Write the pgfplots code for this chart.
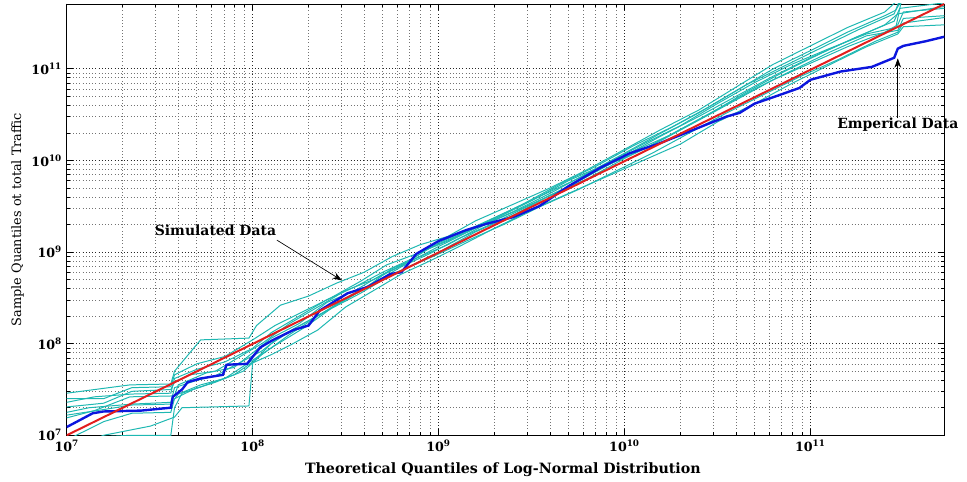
\documentclass[border=0pt]{standalone}
\usepackage{fontspec}
\setmainfont{DejaVu Serif}
\usepackage{pgfplots}
\pgfplotsset{compat=1.18}
\usetikzlibrary{arrows.meta}

\definecolor{simcyan}{RGB}{30,184,178}
\definecolor{empblue}{RGB}{12,22,222}
\definecolor{fitred}{RGB}{226,30,30}
\newcommand{\tl}[1]{\textbf{10}\textsuperscript{\textbf{#1}}}

\begin{document}
\begin{tikzpicture}
\begin{loglogaxis}[
  scale only axis,
  width=657.75bp, height=323.25bp,
  xmin=1e7, xmax=5.25e11, ymin=1e7, ymax=5.1e11,
  xtick={1e7,1e8,1e9,1e10,1e11},
  ytick={1e7,1e8,1e9,1e10,1e11},
  xticklabels={\tl{7},\tl{8},\tl{9},\tl{10},\tl{11}},
  yticklabels={\tl{7},\tl{8},\tl{9},\tl{10},\tl{11}},
  tick label style={font=\fontsize{9.5}{11}\selectfont},
  grid=both,
  major grid style={black!85, dotted, line width=0.6pt},
  minor grid style={black!55, dotted, line width=0.5pt},
  tick align=inside,
  major tick length=4.5bp, minor tick length=2.5bp,
  every tick/.style={black, line width=0.5pt},
  axis line style={black, line width=0.7pt},
  xlabel={Theoretical Quantiles of Log-Normal Distribution},
  ylabel={Sample Quantiles ot total Traffic},
  xlabel style={font=\fontsize{10.7}{12}\selectfont\bfseries,
                at={(axis description cs:0.497,-0.0795)}, anchor=center},
  ylabel style={font=\fontsize{9.7}{11}\selectfont,
                at={(axis description cs:-0.0559,0.5)}, anchor=center},
  clip mode=individual,
]

% simulated data (cyan)
\addplot[simcyan, line width=0.75pt] coordinates {
 (1e7,2.88e7) (2.19e7,3.55e7) (3.63e7,3.63e7) (3.80e7,5.01e7) (5.25e7,1.10e8)
 (9.55e7,1.15e8) (1.05e8,1.58e8) (1.41e8,2.63e8) (2.00e8,3.31e8) (2.82e8,4.57e8)
 (3.98e8,6.03e8) (5.62e8,8.91e8) (7.94e8,1.20e9) (1.12e9,1.48e9) (1.58e9,2.19e9)
 (2.51e9,3.31e9) (3.98e9,5.01e9) (6.31e9,7.94e9) (1e10,1.32e10) (1.58e10,2.19e10)
 (2.51e10,3.55e10) (3.98e10,6.31e10) (6.31e10,1.12e11) (1e11,1.78e11)
 (1.58e11,2.82e11) (2.51e11,4.17e11) (2.95e11,5.62e11)};
\addplot[simcyan, line width=0.75pt] coordinates {
 (1e7,2.29e7) (1.41e7,2.63e7) (2.24e7,2.82e7) (3.63e7,2.88e7) (3.80e7,4.17e7)
 (5.01e7,5.25e7) (7.08e7,6.31e7) (1e8,8.91e7) (1.26e8,1.32e8) (1.78e8,2.00e8)
 (2.51e8,3.02e8) (3.55e8,4.17e8) (5.01e8,6.03e8) (7.08e8,8.32e8) (1e9,1.26e9)
 (1.58e9,1.91e9) (2.51e9,2.95e9) (3.98e9,4.57e9) (6.31e9,7.08e9) (1e10,1.12e10)
 (1.58e10,1.86e10) (2.51e10,3.02e10) (3.98e10,5.01e10) (6.31e10,8.32e10)
 (1e11,1.32e11) (1.58e11,2.00e11) (2.51e11,3.02e11) (2.95e11,3.98e11) (5.25e11,4.79e11)};
\addplot[simcyan, line width=0.75pt] coordinates {
 (1e7,2.04e7) (1.58e7,2.24e7) (2.24e7,3.02e7) (3.63e7,3.16e7) (3.80e7,3.80e7)
 (4.57e7,4.57e7) (6.31e7,5.01e7) (8.91e7,7.59e7) (1.12e8,1e8) (1.58e8,1.66e8)
 (2.24e8,2.51e8) (3.16e8,3.80e8) (4.47e8,5.01e8) (6.31e8,7.08e8) (8.91e8,1.10e9)
 (1.26e9,1.51e9) (2.00e9,2.29e9) (3.16e9,3.63e9) (5.01e9,6.03e9) (7.94e9,9.12e9)
 (1.26e10,1.51e10) (2.00e10,2.40e10) (3.16e10,4.17e10) (5.01e10,7.08e10)
 (7.94e10,1.12e11) (1.26e11,1.66e11) (2.00e11,2.40e11) (2.88e11,2.82e11) (3.09e11,5.62e11)};
\addplot[simcyan, line width=0.75pt] coordinates {
 (1e7,1.78e7) (1.32e7,2.00e7) (2.24e7,2.19e7) (3.63e7,2.29e7) (3.80e7,3.31e7)
 (5.01e7,3.98e7) (6.31e7,4.47e7) (7.94e7,5.75e7) (1.12e8,8.32e7) (1.41e8,1.20e8)
 (2.00e8,1.78e8) (2.82e8,2.63e8) (3.98e8,3.98e8) (5.62e8,6.61e8) (7.94e8,8.91e8)
 (1.12e9,1.20e9) (1.78e9,2.00e9) (2.82e9,3.02e9) (4.47e9,4.57e9) (7.08e9,7.59e9)
 (1.12e10,1.26e10) (1.78e10,1.91e10) (2.82e10,3.16e10) (4.47e10,5.50e10)
 (7.08e10,9.12e10) (1.12e11,1.45e11) (1.78e11,2.24e11) (2.82e11,3.31e11)
 (3.02e11,4.57e11) (5.25e11,5.25e11)};
\addplot[simcyan, line width=0.75pt] coordinates {
 (1e7,1.66e7) (1.58e7,1.91e7) (2.24e7,2.14e7) (3.63e7,2.19e7) (3.98e7,2.82e7)
 (5.25e7,3.55e7) (7.08e7,4.17e7) (1e8,6.61e7) (1.32e8,9.55e7) (1.91e8,1.51e8)
 (2.63e8,2.40e8) (3.80e8,3.55e8) (5.25e8,5.25e8) (7.59e8,7.59e8) (1.05e9,1.05e9)
 (1.58e9,1.66e9) (2.51e9,2.51e9) (3.98e9,4.17e9) (6.31e9,6.31e9) (1e10,1.05e10)
 (1.58e10,1.66e10) (2.51e10,2.75e10) (3.98e10,4.57e10) (6.31e10,7.59e10)
 (1e11,1.15e11) (1.58e11,1.74e11) (2.51e11,2.51e11) (2.95e11,3.02e11)
 (3.16e11,4.17e11) (5.25e11,4.57e11)};
\addplot[simcyan, line width=0.75pt] coordinates {
 (1e7,1.55e7) (1.41e7,1.86e7) (2.19e7,2.63e7) (3.80e7,2.69e7) (3.98e7,3.55e7)
 (5.62e7,4.79e7) (7.94e7,5.50e7) (1e8,7.94e7) (1.26e8,1.15e8) (1.78e8,1.66e8)
 (2.51e8,2.82e8) (3.55e8,3.80e8) (5.01e8,5.75e8) (7.08e8,7.94e8) (1e9,1.15e9)
 (1.58e9,1.82e9) (2.51e9,2.75e9) (3.98e9,4.37e9) (6.31e9,7.24e9) (1e10,1.20e10)
 (1.58e10,2.00e10) (2.51e10,3.31e10) (3.98e10,5.75e10) (6.31e10,1e11)
 (1e11,1.58e11) (1.58e11,2.51e11) (2.51e11,3.80e11) (2.88e11,4.37e11) (3.09e11,5.62e11)};
\addplot[simcyan, line width=0.75pt] coordinates {
 (1e7,8.91e6) (1.26e7,1.12e7) (1.58e7,1.41e7) (2.24e7,1.74e7) (3.63e7,1.78e7)
 (3.80e7,2.51e7) (4.79e7,3.16e7) (6.31e7,3.80e7) (8.91e7,5.01e7) (1.12e8,7.59e7)
 (1.58e8,1.26e8) (2.24e8,2.00e8) (3.16e8,3.02e8) (4.47e8,4.57e8) (6.31e8,6.92e8)
 (8.91e8,9.55e8) (1.26e9,1.38e9) (2.00e9,2.09e9) (3.16e9,3.31e9) (5.01e9,5.25e9)
 (7.94e9,8.71e9) (1.26e10,1.32e10) (2.00e10,2.19e10) (3.16e10,3.63e10)
 (5.01e10,6.03e10) (7.94e10,9.55e10) (1.26e11,1.51e11) (2.00e11,2.29e11)
 (2.95e11,2.63e11) (3.16e11,3.55e11) (5.25e11,3.80e11)};
\addplot[simcyan, line width=0.75pt] coordinates {
 (1e7,7.94e6) (1.41e7,9.55e6) (2.19e7,1.00e7) (3.63e7,1.00e7) (3.80e7,2.00e7)
 (4.17e7,2.88e7) (5.62e7,3.55e7) (7.94e7,4.57e7) (1e8,6.31e7) (1.26e8,1e8)
 (1.66e8,1.45e8) (2.40e8,2.19e8) (3.31e8,3.31e8) (4.79e8,5.01e8) (6.61e8,6.61e8)
 (9.55e8,9.12e8) (1.41e9,1.32e9) (2.24e9,2.00e9) (3.55e9,3.16e9) (5.62e9,4.79e9)
 (8.91e9,7.59e9) (1.41e10,1.20e10) (2.24e10,2.00e10) (3.55e10,3.31e10)
 (5.62e10,5.25e10) (8.91e10,8.32e10) (1.41e11,1.26e11) (2.24e11,2.00e11)
 (2.95e11,2.51e11) (3.16e11,3.16e11) (5.25e11,3.63e11)};
\addplot[simcyan, line width=0.75pt] coordinates {
 (1e7,7.08e6) (1.58e7,1e7) (2.82e7,1.26e7) (3.80e7,1.58e7) (4.17e7,2.00e7)
 (9.55e7,2.09e7) (1e8,6.17e7) (1.26e8,7.59e7) (1.58e8,9.55e7) (2.24e8,1.41e8)
 (3.16e8,2.51e8) (4.47e8,3.80e8) (6.31e8,5.75e8) (8.91e8,7.94e8) (1.26e9,1.12e9)
 (2.00e9,1.82e9) (3.16e9,2.88e9) (5.01e9,4.37e9) (7.94e9,6.61e9) (1.26e10,1e10)
 (2.00e10,1.51e10) (3.16e10,2.63e10) (5.01e10,4.17e10) (7.94e10,6.92e10)
 (1.26e11,1.10e11) (2.00e11,1.74e11) (2.95e11,2.40e11) (3.16e11,2.88e11) (5.25e11,3.02e11)};
\addplot[simcyan, line width=0.75pt] coordinates {
 (1e7,2.51e7) (1.58e7,2.51e7) (2.24e7,3.31e7) (3.63e7,3.39e7) (3.80e7,4.57e7)
 (5.01e7,6.03e7) (7.08e7,7.24e7) (1e8,1.10e8) (1.32e8,1.58e8) (1.91e8,2.29e8)
 (2.63e8,3.16e8) (3.80e8,4.79e8) (5.25e8,7.24e8) (7.59e8,9.55e8) (1.12e9,1.32e9)
 (1.78e9,2.09e9) (2.82e9,3.31e9) (4.47e9,5.50e9) (7.08e9,8.71e9) (1.12e10,1.45e10)
 (1.78e10,2.29e10) (2.82e10,3.80e10) (4.47e10,6.61e10) (7.08e10,1.05e11)
 (1.12e11,1.66e11) (1.78e11,2.63e11) (2.82e11,3.98e11) (3.02e11,5.62e11)};

% empirical data (blue)
\addplot[empblue, line width=1.8pt] coordinates {
 (1e7,1.23e7) (1.38e7,1.74e7) (1.58e7,1.82e7) (2.51e7,1.86e7) (3.63e7,2.00e7)
 (3.72e7,2.63e7) (4.17e7,3.16e7) (4.47e7,3.80e7) (5.25e7,4.17e7) (6.92e7,4.57e7)
 (7.24e7,5.89e7) (9.33e7,6.03e7) (1.10e8,9.12e7) (1.29e8,1.10e8) (1.66e8,1.41e8)
 (2.00e8,1.58e8) (2.29e8,2.29e8) (3.24e8,3.55e8) (4.17e8,4.17e8) (5.50e8,5.75e8)
 (6.31e8,6.03e8) (7.59e8,9.55e8) (1e9,1.32e9) (1.41e9,1.74e9) (1.82e9,2.04e9)
 (2.51e9,2.40e9) (3.47e9,3.16e9) (5.01e9,5.25e9) (7.41e9,8.32e9) (1.07e10,1.20e10)
 (1.51e10,1.51e10) (2.14e10,2.00e10) (2.82e10,2.51e10) (3.55e10,3.02e10)
 (4.17e10,3.31e10) (5.01e10,4.17e10) (6.31e10,4.90e10) (8.71e10,6.17e10)
 (1e11,7.59e10) (1.45e11,9.33e10) (2.14e11,1.05e11) (2.82e11,1.32e11)
 (2.95e11,1.66e11) (3.16e11,1.78e11) (4.17e11,2.00e11) (5.25e11,2.24e11)};

% reference line (red)
\addplot[fitred, line width=1.5pt] coordinates {(1e7,1e7) (5.25e11,5.1e11)};

\node[font=\fontsize{10.5}{12}\selectfont\bfseries] at (axis cs:6.31e7,1.74e9) {Simulated Data};
\draw[black, line width=0.5pt, -{Stealth[length=7bp,width=5bp]}]
  (axis cs:1.35e8,1.35e9) -- (axis cs:3.02e8,4.9e8);
\node[font=\fontsize{10.5}{12}\selectfont\bfseries] at (axis cs:2.95e11,2.45e10) {Emperical Data};
\draw[black, line width=0.5pt, -{Stealth[length=7bp,width=5bp]}]
  (axis cs:2.95e11,2.88e10) -- (axis cs:2.95e11,1.3e11);
\end{loglogaxis}
\pgfresetboundingbox
\path (-50bp,-34.5bp) rectangle (674.75bp,326.25bp);
\end{tikzpicture}
\end{document}
